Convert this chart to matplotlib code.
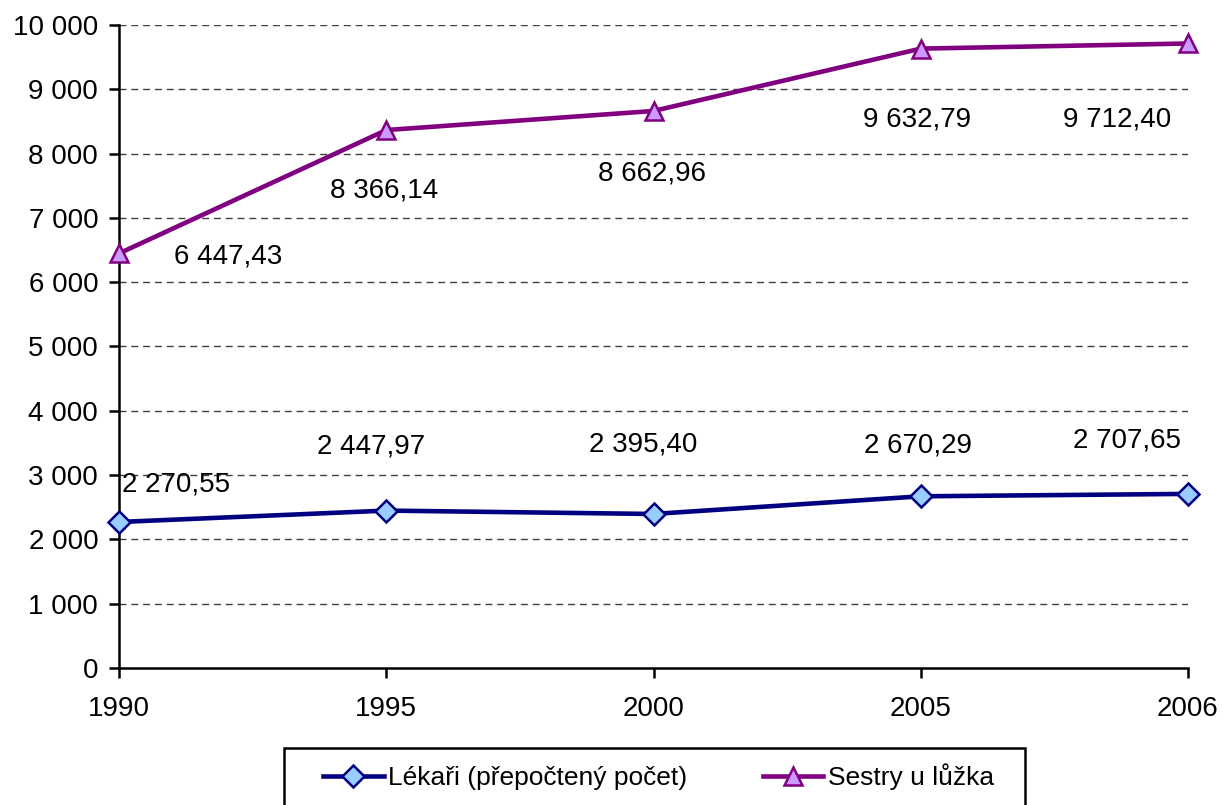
import matplotlib.pyplot as plt
from matplotlib.patches import Rectangle
from matplotlib.ticker import FuncFormatter

plt.rcParams["font.family"] = ["Liberation Sans", "DejaVu Sans"]

years = ["1990", "1995", "2000", "2005", "2006"]
lekari = [2270.55, 2447.97, 2395.40, 2670.29, 2707.65]
sestry = [6447.43, 8366.14, 8662.96, 9632.79, 9712.40]

# label offsets in pixels (moved by hand in the original)
lek_offsets = [(57, 38), (-15, 64), (-10, 69), (-3, 51), (-61, 53)]
ses_offsets = [(109, -3), (-2, -60), (-1, -63), (-4, -71), (-71, -76)]

FS = 20
W, H = 1223, 805


def fmt(v, decimals=2):
    s = f"{v:,.{decimals}f}"
    return s.replace(",", " ").replace(".", ",")


fig = plt.figure(figsize=(W / 100, H / 100), dpi=100)
ax = fig.add_axes([119 / W, 1 - 668 / H, (1188 - 119) / W, (668 - 25) / H])

x = list(range(len(years)))
ax.plot(x, lekari, color="#000080", lw=3.3, marker="D", ms=11,
        mfc="#99CCFF", mec="#000080", mew=1.8, label="Lékaři (přepočtený počet)",
        clip_on=False, zorder=3)
ax.plot(x, sestry, color="#800080", lw=3.3, marker="^", ms=13,
        mfc="#CC99FF", mec="#800080", mew=1.8, label="Sestry u lůžka",
        clip_on=False, zorder=3)

for xi, v, off in zip(x, lekari, lek_offsets):
    ax.annotate(fmt(v), (xi, v), xytext=(off[0] * 0.72, off[1] * 0.72),
                textcoords="offset points", ha="center", va="center", fontsize=FS)
for xi, v, off in zip(x, sestry, ses_offsets):
    ax.annotate(fmt(v), (xi, v), xytext=(off[0] * 0.72, off[1] * 0.72),
                textcoords="offset points", ha="center", va="center", fontsize=FS)

ax.set_xlim(0, len(years) - 1)
ax.set_ylim(0, 10000)
ax.set_xticks(x)
ax.set_xticklabels(years)
ax.set_yticks(range(0, 10001, 1000))
ax.yaxis.set_major_formatter(FuncFormatter(lambda v, p: fmt(v, 0)))
ax.tick_params(axis="both", labelsize=FS, direction="out", length=7, width=1.8, colors="black")
ax.tick_params(axis="x", pad=13)
ax.tick_params(axis="y", pad=8)

for yv in range(1000, 10001, 1000):
    ax.axhline(yv, color="#404040", lw=1.0, ls=(0, (5, 3.5)), zorder=1)

ax.spines["top"].set_visible(False)
ax.spines["right"].set_visible(False)
ax.spines["left"].set_linewidth(1.8)
ax.spines["bottom"].set_linewidth(1.8)

# legend frame runs off the bottom edge, as in the original
fig.patches.append(Rectangle((284 / W, -0.05), (1025 - 284) / W, 0.05 + (805 - 748) / H,
                             transform=fig.transFigure, fill=False, lw=1.8,
                             ec="black", zorder=5))
fig.legend(loc="center left", bbox_to_anchor=(323 / W, 1 - 777 / H), ncol=2,
           fontsize=19, frameon=False, handlelength=2.3, handletextpad=0.18,
           columnspacing=2.85, borderpad=0, borderaxespad=0)

fig.savefig("out.png", dpi=100)
